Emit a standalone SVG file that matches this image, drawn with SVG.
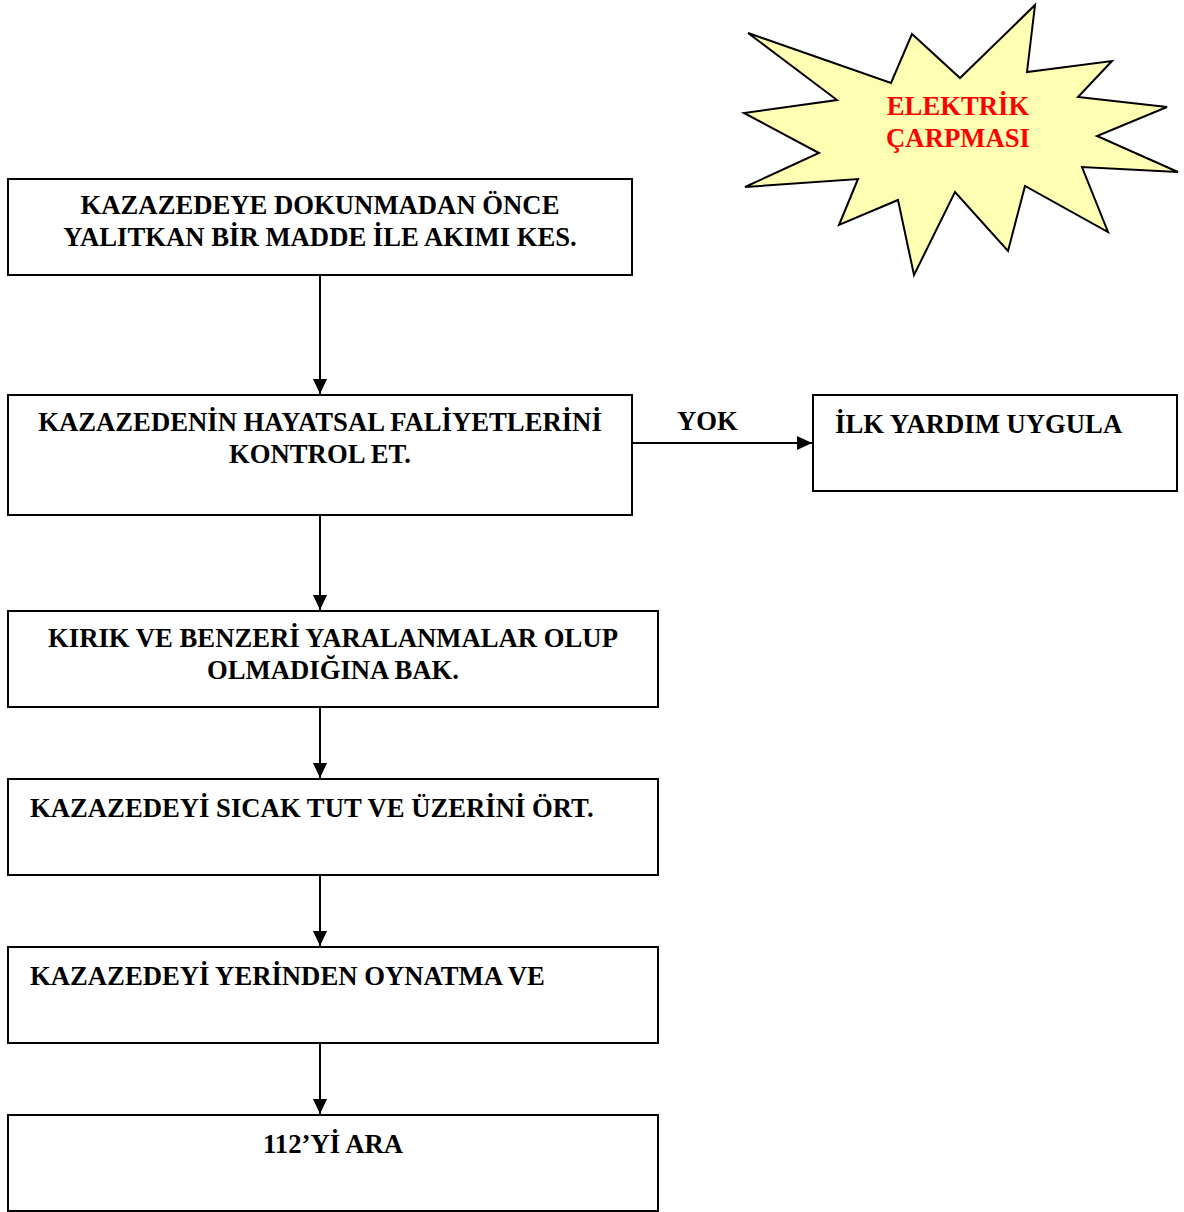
<svg xmlns="http://www.w3.org/2000/svg" width="1184" height="1212" viewBox="0 0 1184 1212">
<style>
.box{fill:#fff;stroke:#000;stroke-width:2}
.t{font-family:"Liberation Serif","Times New Roman",serif;font-weight:bold;font-size:26.7px;fill:#000}
.c{text-anchor:middle}
.conn line{stroke:#000;stroke-width:2}
</style>
<defs>
<marker id="ah" viewBox="0 0 15 14" refX="15" refY="7" markerWidth="15" markerHeight="14" markerUnits="userSpaceOnUse" orient="auto">
<path d="M0,0 L15,7 L0,14 Z" fill="#000"/>
</marker>
</defs>
<rect width="1184" height="1212" fill="#fff"/>
<g id="starburst">
<polygon points="748,33 891,83 912,34 960,78 1035,5 1027,72 1112,61 1078,97 1167,107 1097,136 1178,172 1082,167 1108,232 1025,186 1008,251 955,192 914,275 898,200 839,225 858,179 745,187 819,153 744,113 837,100" fill="#ffffb3" stroke="#000" stroke-width="2" stroke-linejoin="miter"/>
<text class="t c" x="958" y="115" style="fill:#ff0000">ELEKTRİK</text>
<text class="t c" x="958" y="147" style="fill:#ff0000">ÇARPMASI</text>
</g>
<g id="n1">
<rect class="box" x="8" y="179" width="624" height="96"/>
<text class="t c" x="320" y="214">KAZAZEDEYE DOKUNMADAN ÖNCE</text>
<text class="t c" x="320" y="246">YALITKAN BİR MADDE İLE AKIMI KES.</text>
</g>
<g id="n2">
<rect class="box" x="8" y="395" width="624" height="120"/>
<text class="t c" x="320" y="431">KAZAZEDENİN HAYATSAL FALİYETLERİNİ</text>
<text class="t c" x="320" y="463">KONTROL ET.</text>
</g>
<g id="n7">
<rect class="box" x="813" y="395" width="364" height="96"/>
<text class="t" x="835" y="433">İLK YARDIM UYGULA</text>
</g>
<g id="n3">
<rect class="box" x="8" y="611" width="650" height="96"/>
<text class="t c" x="333" y="647">KIRIK VE BENZERİ YARALANMALAR OLUP</text>
<text class="t c" x="333" y="679">OLMADIĞINA BAK.</text>
</g>
<g id="n4">
<rect class="box" x="8" y="779" width="650" height="96"/>
<text class="t" x="30" y="817">KAZAZEDEYİ SICAK TUT VE ÜZERİNİ ÖRT.</text>
</g>
<g id="n5">
<rect class="box" x="8" y="947" width="650" height="96"/>
<text class="t" x="30" y="985">KAZAZEDEYİ YERİNDEN OYNATMA VE</text>
</g>
<g id="n6">
<rect class="box" x="8" y="1115" width="650" height="96"/>
<text class="t c" x="333" y="1153">112’Yİ ARA</text>
</g>
<g id="connectors" class="conn">
<line x1="320" y1="275" x2="320" y2="394" marker-end="url(#ah)"/>
<line x1="320" y1="515" x2="320" y2="610" marker-end="url(#ah)"/>
<line x1="320" y1="707" x2="320" y2="778" marker-end="url(#ah)"/>
<line x1="320" y1="875" x2="320" y2="946" marker-end="url(#ah)"/>
<line x1="320" y1="1043" x2="320" y2="1114" marker-end="url(#ah)"/>
<line x1="632" y1="443" x2="812" y2="443" marker-end="url(#ah)"/>
<text class="t" x="677" y="430">YOK</text>
</g>
</svg>
